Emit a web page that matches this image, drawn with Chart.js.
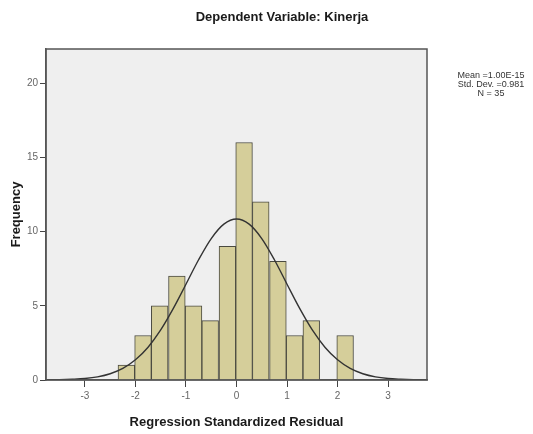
<!DOCTYPE html>
<html>
<head>
<meta charset="utf-8">
<script src="https://cdn.jsdelivr.net/npm/chart.js@4/dist/chart.umd.min.js"></script>
<style>
  html, body { margin: 0; padding: 0; background: #ffffff; }
  #wrap { width: 533px; height: 434px; position: relative; }
</style>
</head>
<body>
<div id="wrap"><canvas id="c" width="533" height="434"></canvas></div>
<script>
// ---- data ----
const chartTitle = "Dependent Variable: Kinerja";
const xAxisTitle = "Regression Standardized Residual";
const yAxisTitle = "Frequency";
const statsLines = ["Mean =1.00E-15", "Std. Dev. =0.981", "N = 35"];

// histogram bins (centres) and counts
const binCenters = [-2.18, -1.85, -1.52, -1.18, -0.85, -0.52, -0.18, 0.15, 0.48, 0.82, 1.15, 1.48, 1.82, 2.15];
const binCounts  = [1, 3, 5, 7, 5, 4, 9, 16, 12, 8, 3, 4, 0, 3];

// normal curve points
const curveX = [-3.75, -3.5, -3.25, -3.0, -2.75, -2.5, -2.25, -2.0, -1.75, -1.5, -1.25, -1.0, -0.75, -0.5, -0.25, 0,
                0.25, 0.5, 0.75, 1.0, 1.25, 1.5, 1.75, 2.0, 2.25, 2.5, 2.75, 3.0, 3.25, 3.5, 3.75];
const curveY = [0.01, 0.02, 0.05, 0.1, 0.21, 0.42, 0.78, 1.36, 2.21, 3.37, 4.82, 6.45, 8.1, 9.53, 10.5, 10.85,
                10.5, 9.53, 8.1, 6.45, 4.82, 3.37, 2.21, 1.36, 0.78, 0.42, 0.21, 0.1, 0.05, 0.02, 0.01];

const xTickValues = [-3, -2, -1, 0, 1, 2, 3];
const yTickValues = [0, 5, 10, 15, 20];
const xMin = -3.77, xMax = 3.77;
const yMin = 0, yMax = 22.3;

// ---- build chart ----
const barData = binCenters.map((x, i) => ({ x: x, y: binCounts[i] }));
const lineData = curveX.map((x, i) => ({ x: x, y: curveY[i] }));

const frameAndText = {
  id: 'frameAndText',
  beforeDraw(chart) {
    const { ctx, chartArea: a } = chart;
    ctx.save();
    ctx.fillStyle = '#efefef';
    ctx.fillRect(a.left, a.top, a.right - a.left, a.bottom - a.top);
    ctx.restore();
  },
  afterDraw(chart) {
    const { ctx, chartArea: a } = chart;
    ctx.save();
    ctx.strokeStyle = '#555555';
    ctx.lineWidth = 1.5;
    ctx.strokeRect(a.left, a.top, a.right - a.left, a.bottom - a.top);
    // title
    ctx.fillStyle = '#1a1a1a';
    ctx.font = 'bold 13px "Liberation Sans", Arial, sans-serif';
    ctx.textAlign = 'center';
    ctx.textBaseline = 'middle';
    ctx.fillText(chartTitle, chart.width / 2 + 15.5, 17);
    // stats box
    ctx.font = '9px "Liberation Sans Narrow", "Liberation Sans", Arial, sans-serif';
    ctx.fillStyle = '#333333';
    const cx = a.right + 64;
    statsLines.forEach((t, i) => ctx.fillText(t, cx, 76 + i * 8.6));
    ctx.restore();
  }
};

new Chart(document.getElementById('c'), {
  data: {
    datasets: [
      {
        type: 'line',
        data: lineData,
        borderColor: '#333333',
        borderWidth: 1.4,
        pointRadius: 0,
        tension: 0.4,
        cubicInterpolationMode: 'monotone',
        fill: false,
        order: 0
      },
      {
        type: 'bar',
        data: barData,
        backgroundColor: '#d5ce9a',
        borderColor: '#4a4a40',
        borderWidth: 1,
        barPercentage: 1,
        categoryPercentage: 1,
        order: 1
      }
    ]
  },
  options: {
    responsive: false,
    animation: false,
    layout: { padding: { top: 49, right: 106, left: 0, bottom: 0 } },
    plugins: {
      legend: { display: false },
      tooltip: { enabled: false },
      title: { display: false }
    },
    scales: {
      x: {
        type: 'linear',
        offset: false,
        min: xMin,
        max: xMax,
        afterBuildTicks(scale) { scale.ticks = xTickValues.map(v => ({ value: v })); },
        afterFit(scale) { scale.height = 54; },
        ticks: {
          color: '#666666',
          font: { size: 10, family: '"Liberation Sans", Arial, sans-serif' },
          padding: 3,
          maxRotation: 0,
          callback: v => String(v)
        },
        grid: { offset: false, drawOnChartArea: false, drawTicks: true, tickLength: 7, color: '#444444', lineWidth: 1 },
        border: { display: true, color: '#555555', width: 1.5 },
        title: {
          display: true,
          text: xAxisTitle,
          color: '#1a1a1a',
          font: { size: 13, weight: 'bold', family: '"Liberation Sans", Arial, sans-serif' },
          padding: { top: 6, bottom: 4 }
        }
      },
      y: {
        type: 'linear',
        min: yMin,
        max: yMax,
        afterBuildTicks(scale) { scale.ticks = yTickValues.map(v => ({ value: v })); },
        afterFit(scale) { scale.width = 46; },
        ticks: {
          color: '#666666',
          font: { size: 10, family: '"Liberation Sans", Arial, sans-serif' },
          padding: 2,
          callback: v => String(v)
        },
        grid: { drawOnChartArea: false, drawTicks: true, tickLength: 6, color: '#444444', lineWidth: 1 },
        border: { display: true, color: '#555555', width: 1.5 },
        title: {
          display: true,
          text: yAxisTitle,
          color: '#1a1a1a',
          font: { size: 13, weight: 'bold', family: '"Liberation Sans", Arial, sans-serif' },
          padding: { top: 9, bottom: 4 }
        }
      }
    }
  },
  plugins: [frameAndText]
});
</script>
</body>
</html>
